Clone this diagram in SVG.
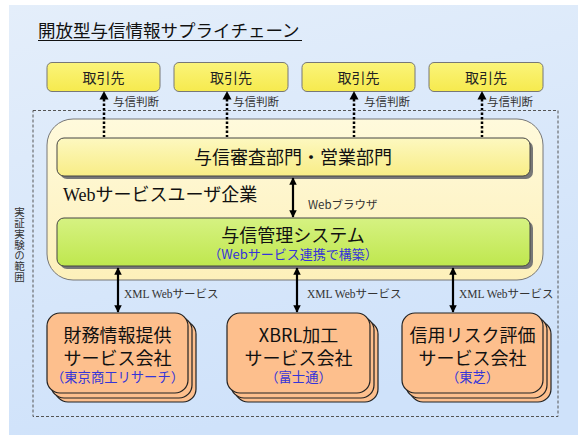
<svg xmlns="http://www.w3.org/2000/svg" width="578" height="435" viewBox="0 0 578 435">
<defs>
<linearGradient id="bg" x1="0" y1="0" x2="0.3" y2="1">
<stop offset="0" stop-color="#e4eefa"/>
<stop offset="1" stop-color="#cfe2fa"/>
</linearGradient>
<linearGradient id="gCream" x1="0" y1="0" x2="0" y2="1">
<stop offset="0" stop-color="#fffadc"/>
<stop offset="1" stop-color="#fdf0ba"/>
</linearGradient>
<linearGradient id="gYel" x1="0" y1="0" x2="0" y2="1">
<stop offset="0" stop-color="#fdf8c0"/>
<stop offset="1" stop-color="#f8ed86"/>
</linearGradient>
<linearGradient id="gGrn" x1="0" y1="0" x2="0" y2="1">
<stop offset="0" stop-color="#d6f282"/>
<stop offset="1" stop-color="#bfe74e"/>
</linearGradient>
<linearGradient id="gTop" x1="0" y1="0" x2="0" y2="1">
<stop offset="0" stop-color="#fbf47a"/>
<stop offset="1" stop-color="#f6ea4e"/>
</linearGradient>
<marker id="ah" viewBox="0 0 10 10" refX="9" refY="5" markerWidth="3.4" markerHeight="3.4" orient="auto-start-reverse" markerUnits="strokeWidth">
<path d="M0,0 L10,5 L0,10 z" fill="#000"/>
</marker>
<style>
.jp{font-family:"Noto Sans CJK JP","Noto Sans",sans-serif;}
.ser{font-family:"Liberation Serif","Noto Sans CJK JP",serif;}
.lbl{font-size:11.5px;fill:#333;}
.top rect{fill:url(#gTop);stroke:#777;stroke-width:1;}
.top text{font-size:14px;fill:#222;text-anchor:middle;}
.svc .b{fill:#fdbf8d;stroke:#222;stroke-width:1.2;}
.svc .t{font-size:18px;fill:#111;text-anchor:middle;}
.svc .s{font-size:13.3px;fill:#3535d8;}
.dot{stroke:#000;stroke-width:2.5;stroke-dasharray:2.5,2;fill:none;}
.dbl{stroke:#000;stroke-width:2.2;fill:none;marker-start:url(#ah);marker-end:url(#ah);}
</style>
</defs>

<rect x="0" y="0" width="578" height="435" fill="#ffffff"/>
<rect x="9" y="5" width="569" height="430" fill="url(#bg)"/>

<g id="title">
<text x="38" y="37" class="jp" font-size="17.5" fill="#111">開放型与信情報サプライチェーン</text>
<line x1="38" y1="40.5" x2="302" y2="40.5" stroke="#111" stroke-width="1.2"/>
</g>

<g id="scope">
<rect x="33" y="110.5" width="525" height="306" fill="none" stroke="#555" stroke-width="1" stroke-dasharray="3,2"/>
<text x="19.5" y="207" class="jp" font-size="10.5" fill="#333" writing-mode="vertical-rl" letter-spacing="0.3">実証実験の範囲</text>
</g>

<g id="top1" class="top jp"><rect x="47" y="62.5" width="113" height="29" rx="5"/><text x="103.5" y="83">取引先</text></g>
<g id="top2" class="top jp"><rect x="174" y="62.5" width="114" height="29" rx="5"/><text x="231" y="83">取引先</text></g>
<g id="top3" class="top jp"><rect x="302" y="62.5" width="113" height="29" rx="5"/><text x="358.5" y="83">取引先</text></g>
<g id="top4" class="top jp"><rect x="429" y="62.5" width="114" height="29" rx="5"/><text x="486" y="83">取引先</text></g>

<g id="user">
<rect x="47" y="119" width="496" height="161" rx="26" fill="url(#gCream)" stroke="#777" stroke-width="1"/>
<text x="63" y="201" font-size="18" fill="#111"><tspan class="ser">Web</tspan><tspan class="jp">サービスユーザ企業</tspan></text>
</g>

<g id="dept">
<rect x="60" y="141" width="473" height="38" rx="7" fill="#777"/>
<rect x="57" y="138" width="473" height="38" rx="7" fill="url(#gYel)" stroke="#444" stroke-width="1"/>
<text x="293" y="164" class="jp" font-size="18" fill="#111" text-anchor="middle">与信審査部門・営業部門</text>
</g>

<g id="mgmt">
<rect x="60" y="221" width="473" height="48" rx="7" fill="#777"/>
<rect x="57" y="218" width="473" height="48" rx="7" fill="url(#gGrn)" stroke="#444" stroke-width="1"/>
<text class="jp" fill="#111" text-anchor="middle"><tspan x="293" y="242" font-size="18">与信管理システム</tspan><tspan x="293" y="259" font-size="13" fill="#3535d8">（Webサービス連携で構築）</tspan></text>
</g>

<g id="svc1" class="svc jp">
<rect class="b" x="55" y="321" width="141" height="81" rx="13"/>
<rect class="b" x="51" y="317" width="141" height="81" rx="13"/>
<rect class="b" x="47" y="313" width="141" height="80" rx="13"/>
<text class="t"><tspan x="117.5" y="342">財務情報提供</tspan><tspan x="117.5" y="365">サービス会社</tspan><tspan class="s" x="117.5" y="382">（東京商工リサーチ）</tspan></text>
</g>
<g id="svc2" class="svc jp">
<rect class="b" x="235" y="321" width="143" height="81" rx="13"/>
<rect class="b" x="231" y="317" width="143" height="81" rx="13"/>
<rect class="b" x="227" y="313" width="143" height="80" rx="13"/>
<text class="t"><tspan x="298.5" y="342">XBRL加工</tspan><tspan x="298.5" y="365">サービス会社</tspan><tspan class="s" x="298.5" y="382">（富士通）</tspan></text>
</g>
<g id="svc3" class="svc jp">
<rect class="b" x="410" y="321" width="141" height="81" rx="13"/>
<rect class="b" x="406" y="317" width="141" height="81" rx="13"/>
<rect class="b" x="402" y="313" width="141" height="80" rx="13"/>
<text class="t"><tspan x="472.5" y="342">信用リスク評価</tspan><tspan x="472.5" y="365">サービス会社</tspan><tspan class="s" x="472.5" y="382">（東芝）</tspan></text>
</g>

<g id="connectors">
<line class="dot" x1="104" y1="99" x2="104" y2="137"/>
<path d="M104,91 L108.5,99.5 L99.5,99.5 z" fill="#000"/>
<line class="dot" x1="227" y1="99" x2="227" y2="137"/>
<path d="M227,91 L231.5,99.5 L222.5,99.5 z" fill="#000"/>
<line class="dot" x1="354" y1="99" x2="354" y2="137"/>
<path d="M354,91 L358.5,99.5 L349.5,99.5 z" fill="#000"/>
<line class="dot" x1="482" y1="99" x2="482" y2="137"/>
<path d="M482,91 L486.5,99.5 L477.5,99.5 z" fill="#000"/>

<line class="dbl" x1="293" y1="178" x2="293" y2="217"/>
<line class="dbl" x1="118" y1="268" x2="118" y2="312"/>
<line class="dbl" x1="297" y1="268" x2="297" y2="312"/>
<line class="dbl" x1="453" y1="268" x2="453" y2="312"/>

<text class="jp lbl" x="113" y="106">与信判断</text>
<text class="jp lbl" x="233" y="106">与信判断</text>
<text class="jp lbl" x="364" y="106">与信判断</text>
<text class="jp lbl" x="487" y="106">与信判断</text>
<text class="jp lbl" x="308" y="209">Webブラウザ</text>
<text class="lbl" x="124" y="298"><tspan class="ser">XML Web</tspan><tspan class="jp">サービス</tspan></text>
<text class="lbl" x="307" y="298"><tspan class="ser">XML Web</tspan><tspan class="jp">サービス</tspan></text>
<text class="lbl" x="459" y="298"><tspan class="ser">XML Web</tspan><tspan class="jp">サービス</tspan></text>
</g>
</svg>
